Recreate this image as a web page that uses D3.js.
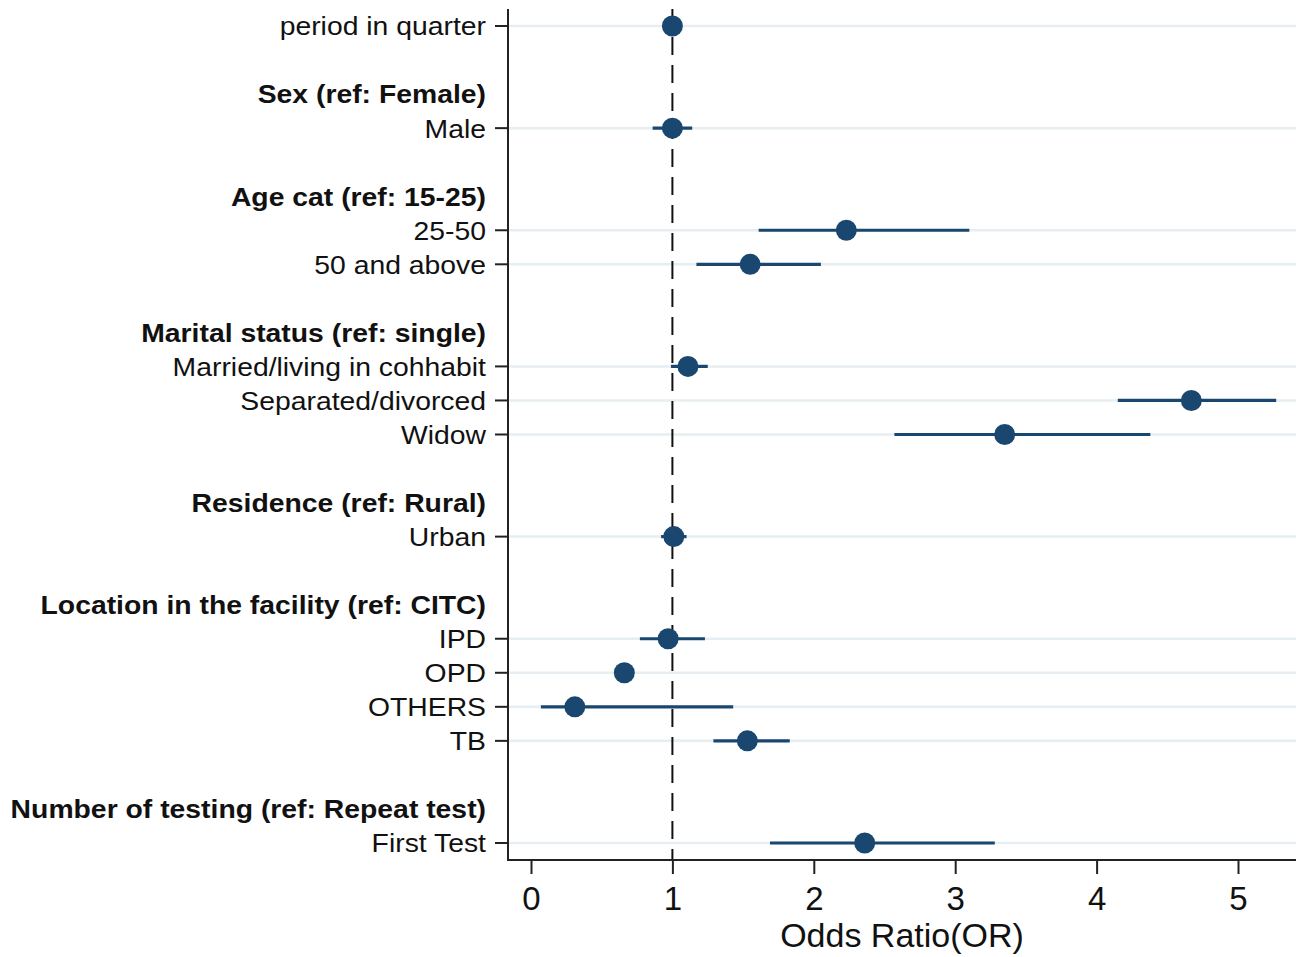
<!DOCTYPE html>
<html>
<head>
<meta charset="utf-8">
<script src="https://cdn.jsdelivr.net/npm/d3@7"></script>
<style>
  html, body { margin: 0; padding: 0; background: #fff; }
  svg { display: block; }
  text { font-family: "Liberation Sans", Arial, sans-serif; fill: #111; }
</style>
</head>
<body>
<svg id="chart" width="1296" height="957"></svg>
<script>
// ---- data ----
const rowLayout = [
  "period in quarter", null,
  "Sex (ref: Female)", "Male", null,
  "Age cat (ref: 15-25)", "25-50", "50 and above", null,
  "Marital status (ref: single)", "Married/living in cohhabit", "Separated/divorced", "Widow", null,
  "Residence (ref: Rural)", "Urban", null,
  "Location in the facility (ref: CITC)", "IPD", "OPD", "OTHERS", "TB", null,
  "Number of testing (ref: Repeat test)", "First Test"
];
const groupHeaders = [
  "Sex (ref: Female)", "Age cat (ref: 15-25)", "Marital status (ref: single)",
  "Residence (ref: Rural)", "Location in the facility (ref: CITC)", "Number of testing (ref: Repeat test)"
];
const terms     = ["period in quarter", "Male", "25-50", "50 and above", "Married/living in cohhabit",
                   "Separated/divorced", "Widow", "Urban", "IPD", "OPD", "OTHERS", "TB", "First Test"];
const oddsRatio = [1.00, 1.00, 2.23, 1.55, 1.11, 4.67, 3.35, 1.01, 0.97, 0.66, 0.31, 1.53, 2.36];
const ciLow     = [0.99, 0.86, 1.61, 1.17, 0.99, 4.15, 2.57, 0.92, 0.77, 0.62, 0.07, 1.29, 1.69];
const ciHigh    = [1.01, 1.14, 3.10, 2.05, 1.25, 5.27, 4.38, 1.10, 1.23, 0.70, 1.43, 1.83, 3.28];
const xTicks    = [0, 1, 2, 3, 4, 5];
const refLine   = 1;
const xTitle    = "Odds Ratio(OR)";

// ---- layout ----
const W = 1296, H = 957;
const plotLeft = 508, plotRight = 1296, plotTop = 9, plotBottom = 860;
const navy = "#1a476f";

const svg = d3.select("#chart");

const x = d3.scaleLinear().domain([0, 5]).range([531, 1238]);
const y = d3.scalePoint().domain(d3.range(rowLayout.length)).range([plotTop, plotBottom]).padding(0.5);

const rowIndex = name => rowLayout.indexOf(name);

const points = terms.map((t, i) => ({ term: t, or: oddsRatio[i], lo: ciLow[i], hi: ciHigh[i], row: rowIndex(t) }));

// gridlines at term rows
svg.append("g").selectAll("line").data(points).join("line")
  .attr("x1", plotLeft).attr("x2", plotRight)
  .attr("y1", d => y(d.row)).attr("y2", d => y(d.row))
  .attr("stroke", "#e7eef1").attr("stroke-width", 2.5);

// reference dashed line
svg.append("line")
  .attr("x1", x(refLine)).attr("x2", x(refLine))
  .attr("y1", plotTop).attr("y2", plotBottom)
  .attr("stroke", "#111").attr("stroke-width", 2)
  .attr("stroke-dasharray", "18,10");

// CI lines
svg.append("g").selectAll("line").data(points).join("line")
  .attr("x1", d => x(d.lo)).attr("x2", d => x(d.hi))
  .attr("y1", d => y(d.row)).attr("y2", d => y(d.row))
  .attr("stroke", navy).attr("stroke-width", 3.2);

// points
svg.append("g").selectAll("circle").data(points).join("circle")
  .attr("cx", d => x(d.or)).attr("cy", d => y(d.row)).attr("r", 10.5)
  .attr("fill", navy);

// left axis line and ticks
svg.append("line")
  .attr("x1", plotLeft).attr("x2", plotLeft).attr("y1", plotTop).attr("y2", plotBottom + 1)
  .attr("stroke", "#222").attr("stroke-width", 2);
svg.append("g").selectAll("line").data(points).join("line")
  .attr("x1", plotLeft - 13).attr("x2", plotLeft)
  .attr("y1", d => y(d.row)).attr("y2", d => y(d.row))
  .attr("stroke", "#222").attr("stroke-width", 2);

// row labels
const labelG = svg.append("g");
rowLayout.forEach((lab, i) => {
  if (!lab) return;
  const isHeader = groupHeaders.includes(lab);
  labelG.append("g")
    .attr("transform", `translate(486,${y(i)}) scale(1.09,1)`)
    .append("text")
    .attr("text-anchor", "end")
    .attr("dy", "0.36em")
    .attr("font-size", 26)
    .attr("font-weight", isHeader ? "bold" : "normal")
    .text(lab);
});

// bottom axis
const xAxis = d3.axisBottom(x).tickValues(xTicks).tickSize(14).tickPadding(13).tickFormat(d3.format("d"));
const gx = svg.append("g").attr("transform", `translate(0,${plotBottom})`).call(xAxis);
gx.select(".domain").remove();
gx.selectAll(".tick line").attr("stroke", "#222").attr("stroke-width", 2);
gx.selectAll(".tick text").attr("font-size", 33).attr("fill", "#111")
  .style("font-family", "'Liberation Sans', Arial, sans-serif");
svg.append("line")
  .attr("x1", plotLeft - 1).attr("x2", plotRight).attr("y1", plotBottom).attr("y2", plotBottom)
  .attr("stroke", "#222").attr("stroke-width", 2);

// x title
svg.append("text")
  .attr("x", (plotLeft + plotRight) / 2).attr("y", 947)
  .attr("text-anchor", "middle").attr("font-size", 34)
  .text(xTitle);
</script>
</body>
</html>
